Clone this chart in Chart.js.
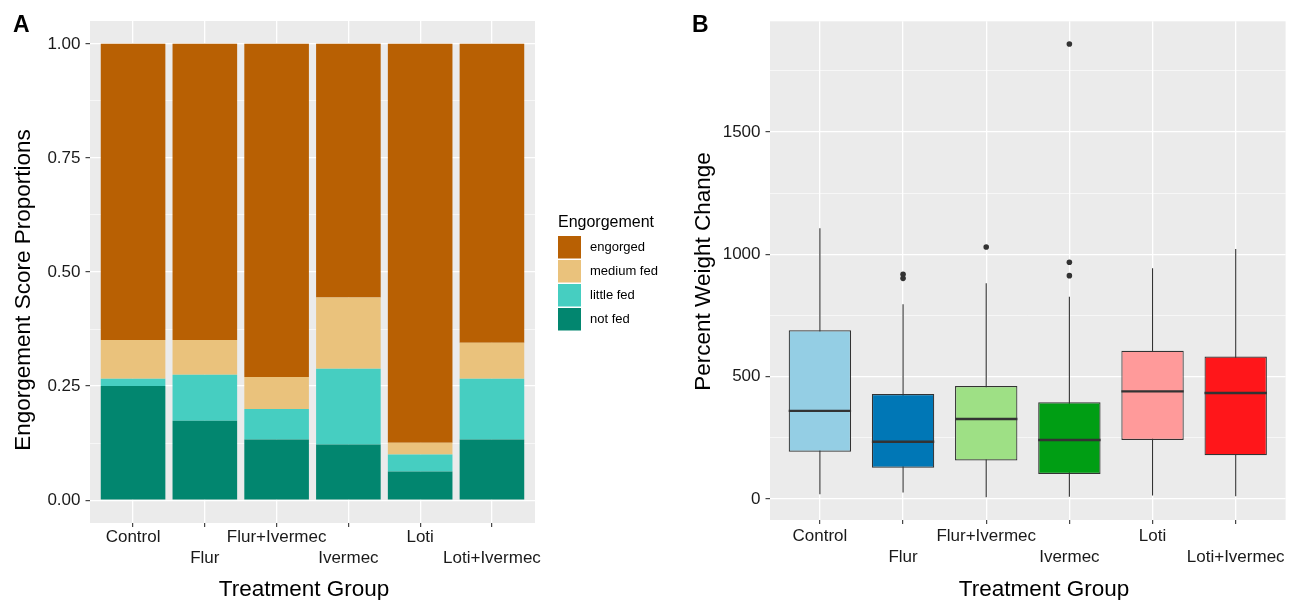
<!DOCTYPE html>
<html>
<head>
<meta charset="utf-8">
<script src="https://cdn.jsdelivr.net/npm/chart.js@4.4.1/dist/chart.umd.min.js"></script>
<style>
  body { margin: 0; background: #fff; }
  #painelA { position: absolute; left: 0; top: 0; width: 690px; height: 600px; }
  #painelB { position: absolute; left: 680px; top: 0; width: 618px; height: 600px; }
</style>
</head>
<body>
<div id="painelA"><canvas id="grafico-barras"></canvas></div>
<div id="painelB"><canvas id="grafico-boxplot"></canvas></div>
<script>
const groups = ["Control", "Flur", "Flur+Ivermec", "Ivermec", "Loti", "Loti+Ivermec"];

// A: engorgement proportions (stacked from the bottom)
const notFed    = [0.250, 0.174, 0.133, 0.122, 0.063, 0.133];
const littleFed = [0.016, 0.101, 0.067, 0.166, 0.037, 0.133];
const mediumFed = [0.085, 0.076, 0.070, 0.156, 0.026, 0.079];
const engorged  = [0.649, 0.649, 0.730, 0.556, 0.874, 0.655];
const ticksA = [0, 0.25, 0.5, 0.75, 1];

// B: percent weight change boxplots
const whiskerLow  = [19, 26, 7, 9, 14, 11];
const q1          = [193, 128, 157, 102, 241, 179];
const medians     = [360, 234, 327, 241, 440, 433];
const q3          = [690, 429, 462, 395, 606, 582];
const whiskerHigh = [1107, 796, 882, 827, 943, 1022];
const outliers    = [[], [919, 902], [1030], [1860, 968, 913], [], []];
const ticksB = [0, 500, 1000, 1500];

const boxColors = ["#94CEE4", "#0077B6", "#9EE085", "#009E14", "#FF9A9A", "#FF161A"];
const fonte = "'Liberation Sans', Arial, Helvetica, sans-serif";

// major ticks plus the minor ones halfway between (ggplot style)
function withMinor(majors, min, max) {
    const step = (majors[1] - majors[0]) / 2;
    const out = [];
    for (let v = majors[0] - step; v <= max + 1e-9; v += step) {
        if (v >= min - 1e-9) {
            out.push({ value: +v.toFixed(6), minor: !majors.some(m => Math.abs(m - v) < 1e-9) });
        }
    }
    return out;
}

function gridY() {
    return {
        color: "#ffffff",
        lineWidth: c => (c.tick && c.tick.minor ? 0.6 : 1.3),
        tickColor: c => (c.tick && c.tick.minor ? "rgba(0,0,0,0)" : "#333333"),
        tickWidth: 1.1,
        tickLength: 4.5
    };
}

function gridX() {
    return {
        color: "#ffffff",
        lineWidth: 1.3,
        offset: false,
        tickColor: "#333333",
        tickWidth: 1.1,
        tickLength: 4
    };
}

function xAxis(height, pad) {
    return {
        type: "linear",
        min: 0.4,
        max: 6.6,
        offset: false,
        stacked: true,
        afterBuildTicks: s => { s.ticks = groups.map((g, i) => ({ value: i + 1 })); },
        afterFit: s => { s.height = height; },
        border: { display: false },
        grid: gridX(),
        ticks: {
            autoSkip: false,
            maxRotation: 0,
            padding: pad,
            color: "#1a1a1a",
            font: { family: fonte, size: 17, lineHeight: "21px" },
            callback: v => {
                const i = Math.round(v) - 1;
                return i % 2 ? ["", groups[i]] : groups[i];
            }
        }
    };
}

const fundoPainel = {
    id: "fundoPainel",
    beforeDraw(chart) {
        const { ctx, chartArea: a } = chart;
        ctx.save();
        ctx.fillStyle = "#EBEBEB";
        ctx.fillRect(a.left, a.top, a.right - a.left, a.bottom - a.top);
        ctx.restore();
    }
};

const textos = {
    id: "textos",
    afterDraw(chart, args, opts) {
        const ctx = chart.ctx;
        (opts.items || []).forEach(t => {
            ctx.save();
            ctx.font = t.font;
            ctx.fillStyle = "#000000";
            ctx.textAlign = t.align;
            ctx.textBaseline = "alphabetic";
            ctx.translate(t.x, t.y);
            if (t.rot) ctx.rotate(t.rot);
            ctx.fillText(t.text, 0, 0);
            ctx.restore();
        });
    }
};

// legend drawn like ggplot's: title plus stacked square keys
const legendaA = {
    id: "legendaA",
    afterDraw(chart) {
        const ctx = chart.ctx;
        const ds = chart.data.datasets.slice().reverse();
        ctx.save();
        ctx.fillStyle = "#000000";
        ctx.font = "16px " + fonte;
        ctx.textAlign = "left";
        ctx.textBaseline = "alphabetic";
        ctx.fillText("Engorgement", 558, 226.5);
        ctx.font = "13px " + fonte;
        ctx.textBaseline = "middle";
        ds.forEach((d, k) => {
            const y = 236 + k * 24;
            ctx.fillStyle = d.backgroundColor;
            ctx.fillRect(558, y, 23, 22.5);
            ctx.fillStyle = "#000000";
            ctx.fillText(d.label, 590, y + 11.5);
        });
        ctx.restore();
    }
};

const xy = arr => arr.map((v, i) => ({ x: i + 1, y: v }));

const ctxBarras = document.getElementById("grafico-barras");

if (ctxBarras) {
    new Chart(ctxBarras, {
        type: "bar",
        data: {
            datasets: [
                { label: "not fed", data: xy(notFed), backgroundColor: "#02866F" },
                { label: "little fed", data: xy(littleFed), backgroundColor: "#46CEC1" },
                { label: "medium fed", data: xy(mediumFed), backgroundColor: "#EAC27C" },
                { label: "engorged", data: xy(engorged), backgroundColor: "#B86003" }
            ]
        },
        options: {
            responsive: true,
            maintainAspectRatio: false,
            animation: false,
            events: [],
            barPercentage: 0.9,
            categoryPercentage: 1,
            layout: { padding: { top: 21, right: 155, left: 0, bottom: 0 } },
            plugins: {
                legend: { display: false },
                tooltip: { enabled: false },
                textos: {
                    items: [
                        { text: "A", x: 13, y: 31.7, align: "left", font: "bold 23px " + fonte },
                        { text: "Engorgement Score Proportions", x: 29.5, y: 290, rot: -Math.PI / 2, align: "center", font: "22.5px " + fonte },
                        { text: "Treatment Group", x: 304, y: 596, align: "center", font: "22.5px " + fonte }
                    ]
                }
            },
            scales: {
                x: xAxis(77, 0),
                y: {
                    min: -0.05,
                    max: 1.05,
                    stacked: true,
                    afterBuildTicks: s => { s.ticks = withMinor(ticksA, -0.05, 1.05); },
                    afterFit: s => { s.width = 90; },
                    border: { display: false },
                    grid: gridY(),
                    ticks: {
                        autoSkip: false,
                        padding: 5,
                        color: "#1a1a1a",
                        font: { family: fonte, size: 17 },
                        callback: (v, i, t) => (t[i].minor ? "" : v.toFixed(2))
                    }
                }
            }
        },
        plugins: [fundoPainel, textos, legendaA]
    });
}

const ctxBox = document.getElementById("grafico-boxplot");

if (ctxBox) {
    const boxes = groups.map((g, i) => ({ x: i + 1, y: [q1[i], q3[i]] }));
    const whiskers = [];
    const medianLines = [];
    groups.forEach((g, i) => {
        whiskers.push({ x: i + 1, y: whiskerLow[i] }, { x: i + 1, y: whiskerHigh[i] }, { x: i + 1, y: null });
        medianLines.push({ x: i + 1 - 0.375, y: medians[i] }, { x: i + 1 + 0.375, y: medians[i] }, { x: i + 1, y: null });
    });
    const outlierPts = [];
    outliers.forEach((arr, i) => arr.forEach(v => outlierPts.push({ x: i + 1, y: v })));

    new Chart(ctxBox, {
        type: "bar",
        data: {
            datasets: [
                {
                    type: "line", label: "median", data: medianLines, order: 0,
                    borderColor: "#333333", borderWidth: 2.4, pointRadius: 0, spanGaps: false
                },
                {
                    type: "scatter", label: "outliers", data: outlierPts, order: 1,
                    backgroundColor: "#333333", borderWidth: 0, pointRadius: 2.8
                },
                {
                    type: "bar", label: "box", data: boxes, order: 2,
                    backgroundColor: boxColors, borderColor: "#333333", borderWidth: 1.2,
                    borderSkipped: false, barPercentage: 0.75, categoryPercentage: 1
                },
                {
                    type: "line", label: "whisker", data: whiskers, order: 3,
                    borderColor: "#333333", borderWidth: 1.1, pointRadius: 0, spanGaps: false
                }
            ]
        },
        options: {
            responsive: true,
            maintainAspectRatio: false,
            animation: false,
            events: [],
            layout: { padding: { top: 21.3, right: 12.4, left: 0, bottom: 0 } },
            plugins: {
                legend: { display: false },
                tooltip: { enabled: false },
                textos: {
                    items: [
                        { text: "B", x: 12, y: 31.7, align: "left", font: "bold 23px " + fonte },
                        { text: "Percent Weight Change", x: 30, y: 271.5, rot: -Math.PI / 2, align: "center", font: "22.5px " + fonte },
                        { text: "Treatment Group", x: 364, y: 596, align: "center", font: "22.5px " + fonte }
                    ]
                }
            },
            scales: {
                x: Object.assign(xAxis(80, 1.5), { stacked: false }),
                y: {
                    min: -86,
                    max: 1953,
                    afterBuildTicks: s => { s.ticks = withMinor(ticksB, -86, 1953); },
                    afterFit: s => { s.width = 90; },
                    border: { display: false },
                    grid: gridY(),
                    ticks: {
                        autoSkip: false,
                        padding: 5,
                        color: "#1a1a1a",
                        font: { family: fonte, size: 17 },
                        callback: (v, i, t) => (t[i].minor ? "" : String(v))
                    }
                }
            }
        },
        plugins: [fundoPainel, textos]
    });
}
</script>
</body>
</html>
